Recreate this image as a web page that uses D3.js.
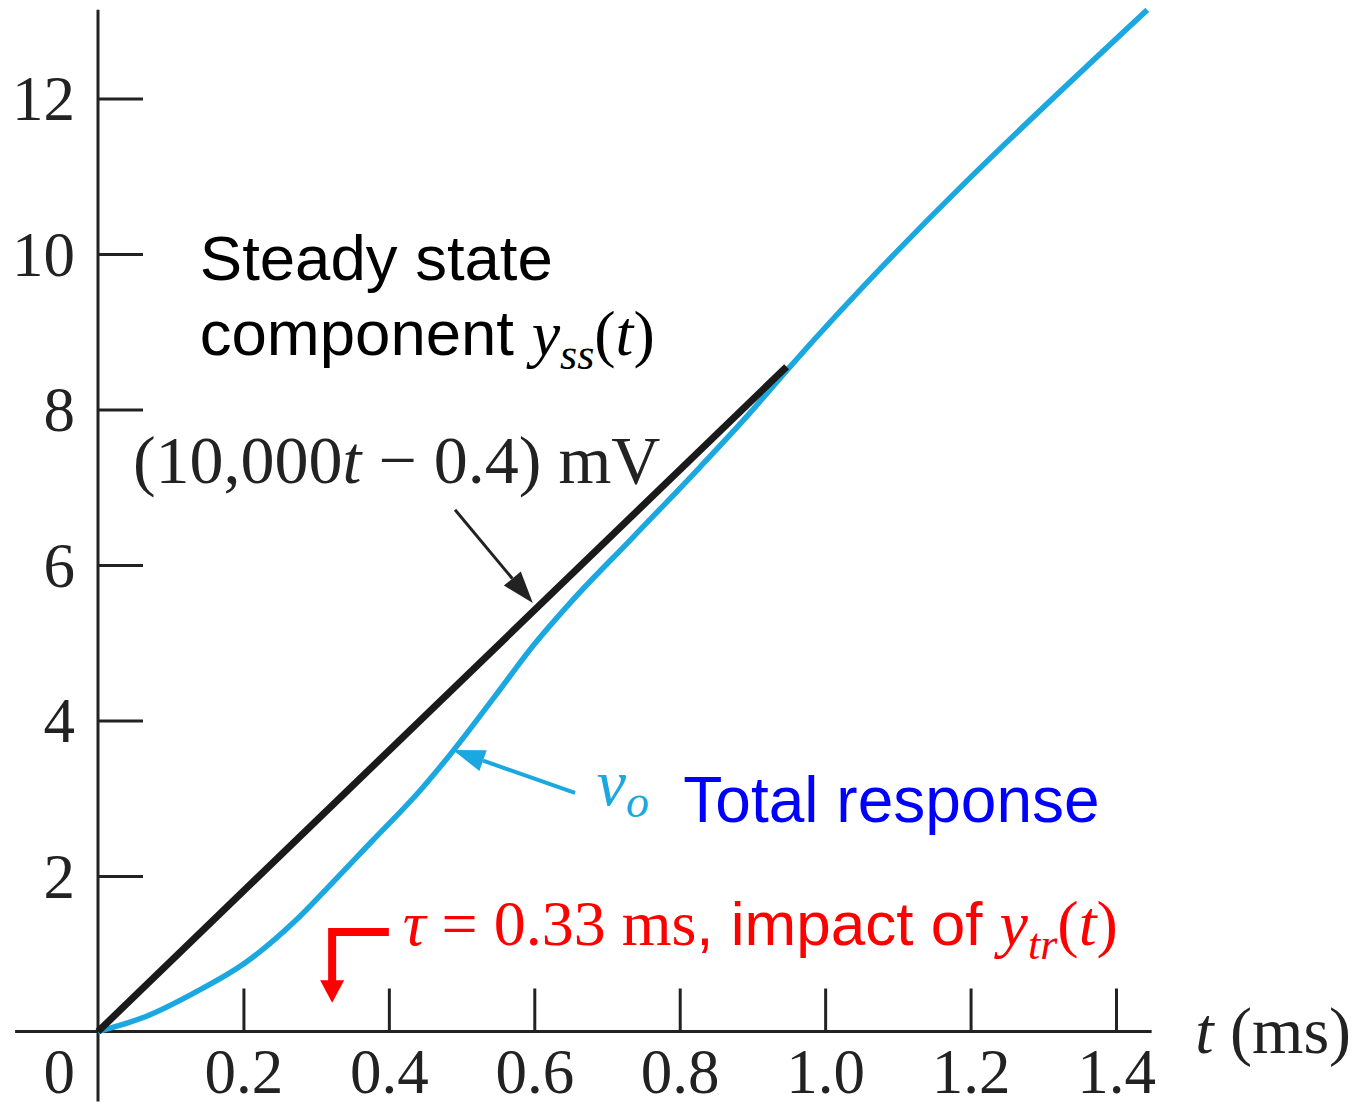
<!DOCTYPE html>
<html>
<head>
<meta charset="utf-8">
<script src="https://cdn.jsdelivr.net/npm/d3@7"></script>
<style>
  body { margin: 0; background: #fff; }
  svg { display: block; }
  .serif { font-family: "Liberation Serif", "Times New Roman", serif; }
  .sans { font-family: "Liberation Sans", Arial, sans-serif; }
</style>
</head>
<body>
<svg id="chart" width="1363" height="1109"></svg>
<script>
// time (ms) and voltage (mV)
var ssTime = [0, 0.947];
var ssValue = [0, 8.55];

var totalTime = [0, 0.065, 0.133, 0.202, 0.271, 0.316, 0.377, 0.443, 0.485, 0.545, 0.600, 0.650, 0.735, 0.827, 0.896, 0.947, 1.443];
var totalValue = [0, 0.19, 0.50, 0.88, 1.42, 1.85, 2.45, 3.10, 3.57, 4.30, 4.98, 5.52, 6.35, 7.25, 7.95, 8.50, 13.14];

var xTicks = [0.2, 0.4, 0.6, 0.8, 1.0, 1.2, 1.4];
var yTicks = [2, 4, 6, 8, 10, 12];

var BLUE = "#1ba8e0";
var BLACK = "#1a1a1a";
var RED = "#ff0000";

var svg = d3.select("#chart");

var x = d3.scaleLinear().domain([0, 1.4]).range([98, 1116]);
var y = d3.scaleLinear().domain([0, 12]).range([1031.5, 98.5]);

// axis lines, running a bit past the origin like the figure
svg.append("line")
    .attr("x1", x(-0.114)).attr("x2", x(1.449))
    .attr("y1", y(0)).attr("y2", y(0))
    .style("stroke", "#222").style("stroke-width", 3);
svg.append("line")
    .attr("x1", x(0)).attr("x2", x(0))
    .attr("y1", y(13.14)).attr("y2", y(-0.9))
    .style("stroke", "#222").style("stroke-width", 3);

var xAxis = svg.append("g")
    .attr("transform", "translate(0," + y(0) + ")")
    .call(d3.axisBottom(x).tickValues(xTicks).tickFormat(d3.format(".1f")).tickSize(-43).tickPadding(17));
var yAxis = svg.append("g")
    .attr("transform", "translate(" + x(0) + ",0)")
    .call(d3.axisLeft(y).tickValues(yTicks).tickSize(-45).tickPadding(23));

[xAxis, yAxis].forEach(function (g) {
    g.select(".domain").remove();
    g.selectAll(".tick line").style("stroke", "#222").style("stroke-width", 3);
    g.selectAll(".tick text")
        .attr("class", "serif")
        .style("font-size", "63px")
        .style("fill", "#222");
});
yAxis.selectAll(".tick text").attr("dy", "0.34em");

// origin label
svg.append("text")
    .attr("class", "serif")
    .attr("x", x(0) - 23).attr("y", y(-0.79))
    .attr("text-anchor", "end")
    .style("font-size", "63px").style("fill", "#222")
    .text("0");

// axis title
var xt = svg.append("text")
    .attr("class", "serif")
    .attr("x", x(1.509)).attr("y", y(-0.277))
    .style("font-size", "66px").style("fill", "#222");
xt.append("tspan").style("font-style", "italic").text("t");
xt.append("tspan").text(" (ms)");

// curves
var line = d3.line()
    .x(function (d) { return x(d[0]); })
    .y(function (d) { return y(d[1]); })
    .curve(d3.curveMonotoneX);

svg.append("path")
    .datum(totalTime.map(function (t, i) { return [t, totalValue[i]]; }))
    .attr("d", line)
    .style("fill", "none")
    .style("stroke", BLUE)
    .style("stroke-width", 5.5);

svg.append("path")
    .datum(ssTime.map(function (t, i) { return [t, ssValue[i]]; }))
    .attr("d", d3.line().x(function (d) { return x(d[0]); }).y(function (d) { return y(d[1]); }))
    .style("fill", "none")
    .style("stroke", BLACK)
    .style("stroke-width", 7);

// arrow helper: line from (t0,v0) to (t1,v1) with a filled head
function arrow(t0, v0, t1, v1, color, width, headLen, headW) {
    var x0 = x(t0), y0 = y(v0), x1 = x(t1), y1 = y(v1);
    var a = Math.atan2(y1 - y0, x1 - x0);
    var bx = x1 - headLen * Math.cos(a), by = y1 - headLen * Math.sin(a);
    svg.append("line")
        .attr("x1", x0).attr("y1", y0).attr("x2", bx).attr("y2", by)
        .style("stroke", color).style("stroke-width", width);
    var px = Math.sin(a) * headW / 2, py = -Math.cos(a) * headW / 2;
    svg.append("path")
        .attr("d", "M" + x1 + "," + y1 + "L" + (bx + px) + "," + (by + py) + "L" + (bx - px) + "," + (by - py) + "Z")
        .style("fill", color);
}

// steady state annotation
svg.append("text").attr("class", "sans")
    .attr("x", x(0.140)).attr("y", y(9.67))
    .style("font-size", "63.5px").style("fill", "#000")
    .text("Steady state");
var ss2 = svg.append("text").attr("class", "sans")
    .attr("x", x(0.140)).attr("y", y(8.70))
    .style("font-size", "63.5px").style("fill", "#000");
ss2.append("tspan").text("component ");
ss2.append("tspan").attr("class", "serif").style("font-style", "italic").style("font-size", "64px").text("y");
ss2.append("tspan").attr("class", "serif").style("font-style", "italic").style("font-size", "44px").attr("dy", 14).text("ss");
ss2.append("tspan").attr("class", "serif").style("font-size", "64px").attr("dy", -14).text("(");
ss2.append("tspan").attr("class", "serif").style("font-style", "italic").style("font-size", "64px").text("t");
ss2.append("tspan").attr("class", "serif").style("font-size", "64px").text(")");

var eq = svg.append("text").attr("class", "serif")
    .attr("x", x(0.048)).attr("y", y(7.05))
    .style("font-size", "68px").style("fill", "#222");
eq.append("tspan").text("(10,000");
eq.append("tspan").style("font-style", "italic").text("t");
eq.append("tspan").text(" \u2212 0.4) mV");

arrow(0.491, 6.71, 0.598, 5.51, "#222", 3, 32, 22);

// total response annotation
arrow(0.656, 3.07, 0.488, 3.62, BLUE, 4, 32, 22);
var vo = svg.append("text").attr("class", "serif")
    .attr("x", x(0.686)).attr("y", y(2.91))
    .style("font-size", "66px").style("fill", BLUE).style("font-style", "italic");
vo.append("tspan").text("v");
vo.append("tspan").style("font-size", "46px").attr("dy", 12).text("o");
svg.append("text").attr("class", "sans")
    .attr("x", x(0.805)).attr("y", y(2.69))
    .style("font-size", "64px").style("fill", "#0000ff")
    .text("Total response");

// time constant annotation
var tau = svg.append("text").attr("class", "serif")
    .attr("x", x(0.419)).attr("y", y(1.11))
    .style("font-size", "64px").style("fill", RED);
tau.append("tspan").style("font-style", "italic").text("\u03c4");
tau.append("tspan").text(" = 0.33 ms");
tau.append("tspan").attr("class", "sans").style("font-size", "62px").text(", impact of ");
tau.append("tspan").style("font-style", "italic").text("y");
tau.append("tspan").style("font-style", "italic").style("font-size", "44px").attr("dy", 14).text("tr");
tau.append("tspan").attr("dy", -14).text("(");
tau.append("tspan").style("font-style", "italic").text("t");
tau.append("tspan").text(")");

svg.append("path")
    .attr("d", d3.line()([[x(0.400), y(1.28)], [x(0.322), y(1.28)], [x(0.322), y(0.62)]]))
    .style("fill", "none").style("stroke", RED).style("stroke-width", 8);
svg.append("path")
    .attr("d", d3.line()([[x(0.322) - 12, y(0.66)], [x(0.322) + 12, y(0.66)], [x(0.322), y(0.37)]]) + "Z")
    .style("fill", RED);
</script>
</body>
</html>
